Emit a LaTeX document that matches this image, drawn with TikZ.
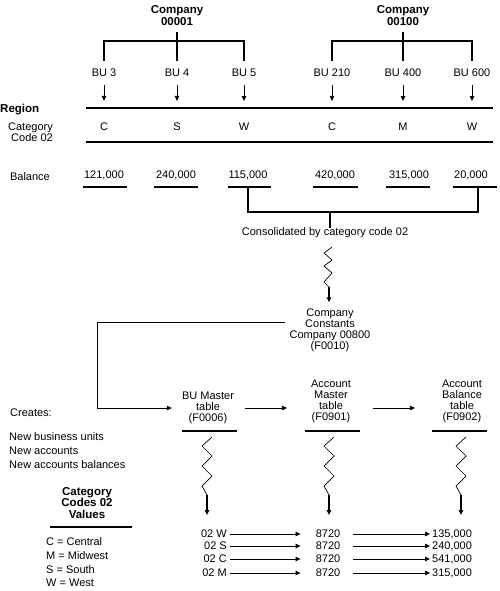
\documentclass[tikz,border=0pt]{standalone}
\usepackage{fontspec}
\setmainfont{Liberation Sans}
\usetikzlibrary{arrows.meta,calc}
\begin{document}
\begin{tikzpicture}[x=1pt,y=-1pt,
 t/.style={font=\fontsize{11}{11}\selectfont,inner sep=0pt},
 tb/.style={font=\fontsize{11.5}{11.5}\selectfont\bfseries,inner sep=0pt},
 thk/.style={line width=1.7pt},
 zz/.style={line width=0.7pt},
 arr/.style={line width=0.8pt,-{Triangle[length=5pt,width=4.5pt]}},
 arrk/.style={line width=1.3pt,-{Triangle[length=5pt,width=4.5pt]}}]
\useasboundingbox (0,0) rectangle (499,591);

% companies
\node[tb,align=center] (co1) at (177,15.5) {Company\\00001};
\node[tb,align=center] (co2) at (403,15.5) {Company\\00100};

% business units
\node[t] (b3) at (104,73) {BU 3};
\node[t] (b4) at (177,73) {BU 4};
\node[t] (b5) at (244,73) {BU 5};
\node[t] (b210) at (332,73) {BU 210};
\node[t] (b400) at (403,73) {BU 400};
\node[t] (b600) at (472,73) {BU 600};

\draw[thk] (b3 |- 0,61) -- (b3 |- 0,41) -| (b5 |- 0,61);
\draw[thk] (co1 |- 0,32) -- (b4 |- 0,61);
\draw[thk] (b210 |- 0,61) -- (b210 |- 0,41) -| (b600 |- 0,61);
\draw[thk] (co2 |- 0,32) -- (b400 |- 0,61);

% region
\node[tb,anchor=west] (reg) at (0,110) {Region};
\node[t,align=right,anchor=east] (cat) at (53,132) {Category\\Code 02};
\draw[thk] (86,108) -- (493,108);
\draw[thk] (86,142) -- (493,142);

\node[t] (l3) at (104,127) {C};
\node[t] (l4) at (177,127) {S};
\node[t] (l5) at (244,127) {W};
\node[t] (l210) at (332,127) {C};
\node[t] (l400) at (403,127) {M};
\node[t] (l600) at (472,127) {W};

\foreach \a/\b in {b3/l3,b4/l4,b5/l5,b210/l210,b400/l400,b600/l600}
  \draw[arr,shorten <=8pt,shorten >=22pt] (\a) -- (\b);

% balances
\node[t,anchor=east] (bal) at (50,177) {Balance};
\node[t] (v3) at (104,175) {121,000};
\node[t] (v4) at (176,175) {240,000};
\node[t] (v5) at (248,175) {115,000};
\node[t] (v210) at (335,175) {420,000};
\node[t] (v400) at (409,175) {315,000};
\node[t] (v600) at (471,175) {20,000};
\draw[thk] (83,187) -- (127,187);
\draw[thk] (154,187) -- (198,187);
\draw[thk] (228,187) -- (271,187);
\draw[thk] (313,187) -- (358,187);
\draw[thk] (386,187) -- (430,187);
\draw[thk] (453,187) -- (497,187);

\draw[thk] (248,188) -- (248,212) -- (478,212) -- (478,188);
\node[t] (cons) at (325,233) {Consolidated by category code 02};
\draw[thk] (330,212) -- (cons.north -| 330,0);

\node[t,align=center] (k) at (330,330) {Company\\Constants\\Company 00800\\(F0010)};
\draw[zz] (332,247) -- (324,253) -- (332,260) -- (324,266) -- (332,273) -- (324,282) -- (329,287);
\draw[arrk,shorten >=6pt] (329,287) -- (k.north -| 329,0);

% tables
\node[t,align=center] (bum) at (208,408) {BU Master\\table\\(F0006)};
\node[t,align=center] (am) at (331,401.5) {Account\\Master\\table\\(F0901)};
\node[t,align=center] (ab) at (462,401.5) {Account\\Balance\\table\\(F0902)};
\draw[thk] (182,431) -- (237,431);
\draw[thk] (305,431) -- (360,431);
\draw[thk] (432,431) -- (487,431);

\draw[arr,shorten >=10pt] ([xshift=-4pt]k.west |- 0,322) -- (97,322) |- (bum.west);
\draw[arr,shorten <=11pt,shorten >=24pt] (bum.east) -- (am.west |- bum.east);
\draw[arr,shorten <=22pt,shorten >=27pt] (am.east |- bum.east) -- (ab.west |- bum.east);

\foreach \c in {207,329,461}{
  \draw[zz] (\c+5,437) -- (\c-5,446) -- (\c+5,456) -- (\c-5,466) -- (\c+5,476) -- (\c-5,486) -- (\c,495);
  \draw[arrk] (\c,495) -- (\c,515);
}

% creates
\node[t,anchor=west] (cr) at (10,413) {Creates:};
\node[t,anchor=west] (cr1) at (9,437) {New business units};
\node[t,anchor=west] (cr2) at (9,451) {New accounts};
\node[t,anchor=west] (cr3) at (9,465) {New accounts balances};

% legend
\node[tb,align=center] (ccv) at (87,503) {Category\\Codes 02\\Values};
\draw[thk] (50,527) -- (132,527);
\node[t,anchor=west] (g1) at (46,542) {C = Central};
\node[t,anchor=west] (g2) at (46,556) {M = Midwest};
\node[t,anchor=west] (g3) at (46,570) {S = South};
\node[t,anchor=west] (g4) at (46,583) {W = West};

% result rows
\foreach \i/\y/\cc/\vv in {1/534/02 W/135{,}000,2/546/02 S/240{,}000,3/559/02 C/541{,}000,4/573/02 M/315{,}000}{
  \node[t,anchor=east] (w\i) at (227,\y) {\cc};
  \node[t] (n\i) at (328,\y) {8720};
  \node[t,anchor=west] (m\i) at (432,\y) {\vv};
  \draw[arr,shorten <=3pt,shorten >=15pt] (w\i.east) -- (n\i.west);
  \draw[arr,shorten <=13pt,shorten >=2pt] (n\i.east) -- (m\i.west);
}
\end{tikzpicture}
\end{document}
